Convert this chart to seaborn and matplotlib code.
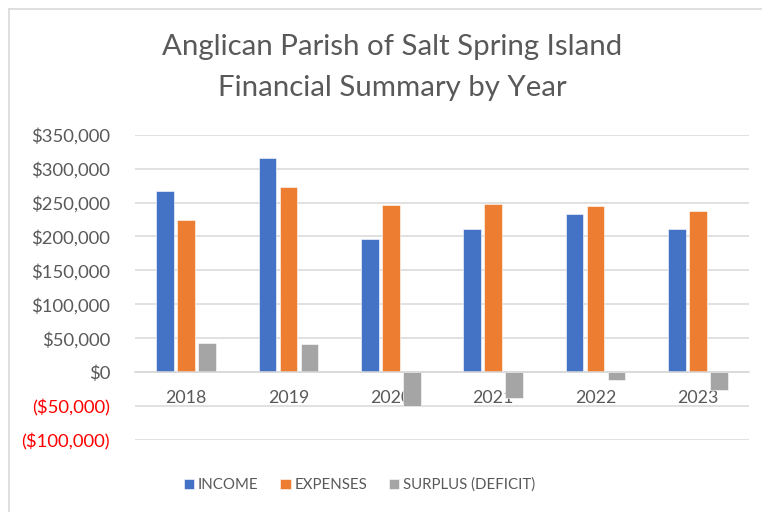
"""
Parish financial summary chart
Grouped bars of income, expenses and surplus per year
"""

import matplotlib
matplotlib.use("Agg")
import matplotlib.pyplot as plt
from matplotlib.lines import Line2D
import seaborn as sns
import pandas as pd

# Data
YEARS = ["2018", "2019", "2020", "2021", "2022", "2023"]
INCOME = [267000, 315000, 196000, 211000, 233000, 211000]
EXPENSES = [224500, 273000, 246500, 248500, 245000, 237000]
SURPLUS = [42500, 42000, -50500, -37500, -12000, -26000]
SERIES = ["INCOME", "EXPENSES", "SURPLUS (DEFICIT)"]
Y_TICKS = [-100000, -50000, 0, 50000, 100000, 150000, 200000, 250000, 300000, 350000]

COLORS = ["#4472C4", "#ED7D31", "#A5A5A5"]
TEXT = "#595959"
GRID = "#D9D9D9"


def money(v):
    if v < 0:
        return f"(${-v:,.0f})"
    return f"${v:,.0f}"


df = pd.DataFrame({
    "year": YEARS * 3,
    "amount": INCOME + EXPENSES + SURPLUS,
    "series": [s for s in SERIES for _ in YEARS],
})

sns.set_theme(style="white")
plt.rcParams["font.family"] = ["Lato", "DejaVu Sans"]

fig = plt.figure(figsize=(7.62, 5.12), dpi=100)
ax = fig.add_axes([135 / 762, 1 - 440 / 512, 614 / 762, (440 - 134.7) / 512])

sns.barplot(data=df, x="year", y="amount", hue="series", palette=COLORS,
            saturation=1, width=0.616, gap=0.17, ax=ax,
            edgecolor="white", linewidth=0.4)

ax.set_ylim(-100000, 350000)
ax.set_xlim(-0.5, len(YEARS) - 0.5)
ax.set_axisbelow(True)
ax.yaxis.grid(True, color=GRID, linewidth=1.1)
ax.xaxis.grid(False)
for side in ["top", "right", "left"]:
    ax.spines[side].set_visible(False)
ax.spines["bottom"].set_position(("data", 0))
ax.spines["bottom"].set_color(GRID)
ax.spines["bottom"].set_linewidth(1.1)

ax.set_xlabel("")
ax.set_ylabel("")
ax.tick_params(axis="x", length=0, pad=13, labelsize=12.8, labelcolor=TEXT)
ax.tick_params(axis="y", length=0, pad=18, labelsize=13.3)
ax.set_yticks(Y_TICKS, [money(v) for v in Y_TICKS])
for lbl, v in zip(ax.get_yticklabels(), Y_TICKS):
    lbl.set_color("#FF0000" if v < 0 else TEXT)

# Legend under the plot
handles, labels = ax.get_legend_handles_labels()
ax.get_legend().remove()
fig.legend(handles, labels, loc="center", bbox_to_anchor=(0.472, 0.053),
           ncol=3, frameon=False, fontsize=10.8, labelcolor=TEXT,
           handlelength=0.67, handleheight=0.67, handletextpad=0.27,
           columnspacing=1.47)

# Title, two lines
fig.text(0.515, 1 - 47 / 512, "Anglican Parish of Salt Spring Island",
         ha="center", va="center", fontsize=21.2, color=TEXT)
fig.text(0.515, 1 - 88 / 512, "Financial Summary by Year",
         ha="center", va="center", fontsize=21.2, color=TEXT)

# Chart border (top and left edges visible)
fig.add_artist(Line2D([9 / 762, 1], [1 - 9 / 512, 1 - 9 / 512],
                      transform=fig.transFigure, color=GRID, linewidth=1.2))
fig.add_artist(Line2D([9 / 762, 9 / 762], [0, 1 - 9 / 512],
                      transform=fig.transFigure, color=GRID, linewidth=1.2))

fig.savefig("out.png", dpi=100)
